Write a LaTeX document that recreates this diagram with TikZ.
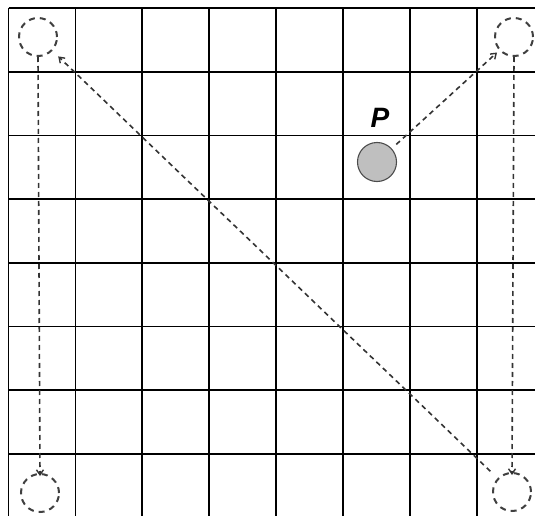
\documentclass[tikz,border=0pt]{standalone}
\usepackage{fontspec}
\setmainfont{Liberation Sans}
\usetikzlibrary{arrows.meta}
\begin{document}
\begin{tikzpicture}[x=1pt,y=-1pt,
  gridline/.style={line width=1.7pt,black},
  ghost/.style={circle,draw=black!75,line width=2pt,dash pattern=on 6pt off 5pt,minimum size=38pt,inner sep=0pt},
  ball/.style={circle,draw=black!70,line width=1.1pt,fill=black!25,minimum size=39pt,inner sep=0pt},
  arr/.style={line width=1.6pt,black!80,dash pattern=on 5pt off 4pt,-{Straight Barb[length=5pt,width=7pt,line width=1.4pt]}},
  lbl/.style={font=\fontsize{28}{28}\selectfont\bfseries\itshape,inner sep=0pt}]
\useasboundingbox (0,0) rectangle (535,516);
\fill[white] (0,0) rectangle (535,516);
\begin{scope}
\clip (0,0) rectangle (535,516);
\foreach \i in {0,...,8} {
  \draw[gridline] ({8.5+66.9*\i},8) -- ({8.5+66.9*\i},530);
  \draw[gridline] (8.5,{8+63.72*\i}) -- (550,{8+63.72*\i});
}
\end{scope}
\node[ghost] (tl) at (38,37) {};
\node[ghost] (tr) at (514,37) {};
\node[ghost] (bl) at (40,493) {};
\node[ghost] (br) at (512,492) {};
\node[ball] (p) at (377,162) {};
\node[lbl] (plabel) at (380,118) {P};
\draw[arr] (tl.south) -- ([yshift=-3pt]bl.north);
\draw[arr] (tr.south) -- ([yshift=-3pt]br.north);
\draw[arr,shorten <=10pt,shorten >=8pt] (br) -- (tl);
\draw[arr,shorten <=6pt,shorten >=3pt] (p) -- (tr);
\end{tikzpicture}
\end{document}
